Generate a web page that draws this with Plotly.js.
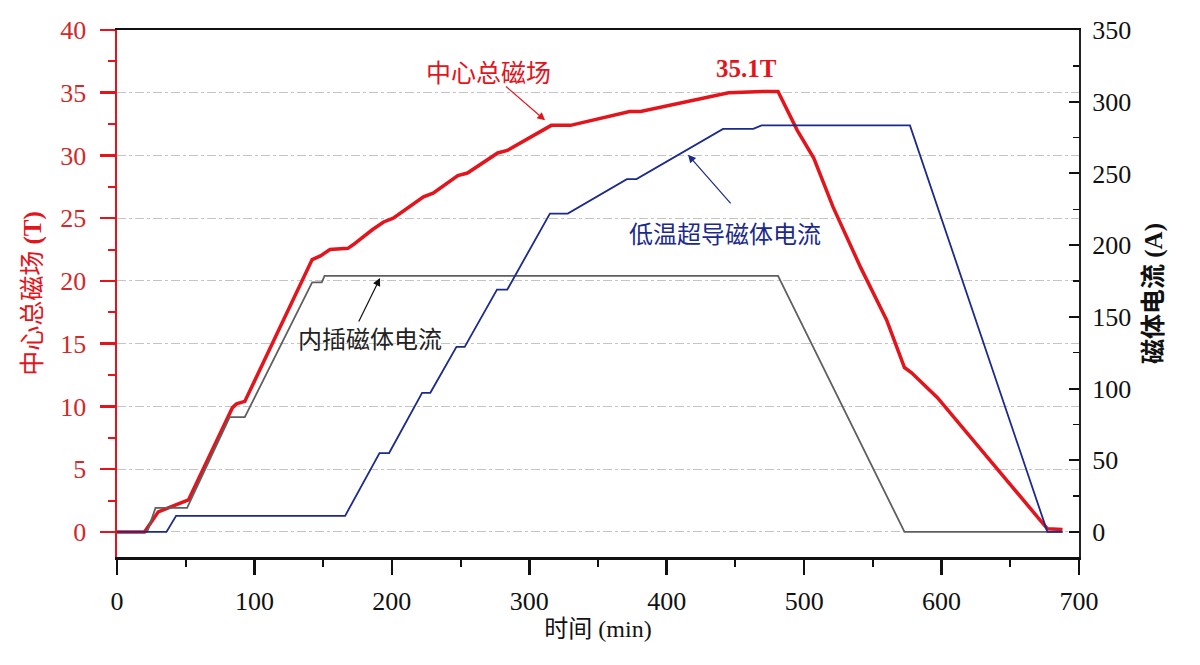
<!DOCTYPE html>
<html>
<head>
<meta charset="utf-8">
<script src="https://cdn.plot.ly/plotly-3.0.1.min.js"></script>
<style>
  html, body { margin: 0; padding: 0; background: #fff; }
  #chart { width: 1200px; height: 665px; }
</style>
</head>
<body>
<div id="chart"></div>
<script>
// centre field (T), left axis
var tField = [0, 20, 30, 46, 52, 84, 87, 93, 142, 148, 155, 168, 172, 186, 194, 201, 223, 230, 248, 255,
              277, 284, 316, 330, 373, 381, 445, 470, 481, 495, 507, 521, 541, 560, 573, 578, 597, 677, 688];
var field  = [0, 0, 1.6, 2.3, 2.55, 9.9, 10.2, 10.4, 21.7, 22.0, 22.5, 22.6, 22.9, 24.1, 24.7, 25.0, 26.7, 27.0, 28.4, 28.6,
              30.2, 30.4, 32.4, 32.4, 33.5, 33.5, 35.0, 35.1, 35.1, 32.0, 29.8, 25.9, 21.1, 16.9, 13.1, 12.7, 10.7, 0.25, 0.2];

// insert magnet current (A), right axis
var tInsert = [0, 22, 28, 51, 82, 93, 142, 149, 151, 481, 573, 688];
var insert  = [0, 0, 16.7, 16.7, 80, 80, 174, 174, 178.5, 178.5, 0, 0];

// LTS magnet current (A), right axis
var tLts = [0, 36, 43, 166, 191, 198, 222, 228, 247, 253, 276.5, 284, 315, 328, 371, 378, 441, 463, 469, 577, 677, 688];
var lts  = [0, 0, 11.2, 11.2, 55, 55, 97, 97, 129, 129, 169, 169, 222, 222, 246, 246, 281, 281, 283.5, 283.5, 0, 0];

var xTicks = [0, 100, 200, 300, 400, 500, 600, 700];
var yTicks = [0, 5, 10, 15, 20, 25, 30, 35, 40];
var y2Ticks = [0, 50, 100, 150, 200, 250, 300, 350];

var FONT = 'Liberation Serif, Noto Sans CJK SC, serif';
var RED = '#e3141b';
var NAVY = '#1b2a8c';
var GREY = '#5f5f5f';

var data = [
  {
    x: tInsert, y: insert, yaxis: 'y2', type: 'scatter', mode: 'lines',
    line: { color: GREY, width: 1.8 }, name: '内插磁体电流'
  },
  {
    x: tLts, y: lts, yaxis: 'y2', type: 'scatter', mode: 'lines',
    line: { color: NAVY, width: 1.8 }, name: '低温超导磁体电流'
  },
  {
    x: tField, y: field, yaxis: 'y', type: 'scatter', mode: 'lines',
    line: { color: RED, width: 3.5 }, name: '中心总磁场'
  }
];

var layout = {
  width: 1200,
  height: 665,
  margin: { l: 117, r: 121, t: 30, b: 108 },
  paper_bgcolor: '#fff',
  plot_bgcolor: '#fff',
  showlegend: false,
  font: { family: FONT, size: 25, color: '#111' },
  xaxis: {
    range: [0, 700],
    tickvals: xTicks,
    ticks: 'outside', ticklen: 15, tickwidth: 2.5, tickcolor: '#111',
    minor: { dtick: 50, ticks: 'outside', ticklen: 7, tickwidth: 2, tickcolor: '#111' },
    showline: true, linecolor: '#111', linewidth: 2.5, mirror: true,
    showgrid: false, zeroline: false,
    ticklabelstandoff: 4,
    tickfont: { family: FONT, size: 26, color: '#111' },
    title: { text: '时间 (min)', font: { family: FONT, size: 24, color: '#111' }, standoff: 6 }
  },
  yaxis: {
    range: [-2, 40],
    tickvals: yTicks,
    ticks: 'outside', ticklen: 15, tickwidth: 2.5, tickcolor: RED,
    minor: { dtick: 2.5, ticks: 'outside', ticklen: 7, tickwidth: 2, tickcolor: RED },
    showline: true, linecolor: RED, linewidth: 2.5,
    showgrid: true, gridcolor: '#c4c4c4', gridwidth: 1, griddash: 'dashdot',
    zeroline: false,
    ticklabelstandoff: 8,
    tickfont: { family: FONT, size: 26, color: '#d12a2a' },
    title: { text: '中心总磁场 <b>(T)</b>', font: { family: FONT, size: 25, color: RED }, standoff: 12 }
  },
  yaxis2: {
    overlaying: 'y', side: 'right',
    range: [-17.5, 350],
    tickvals: y2Ticks,
    ticks: 'inside', ticklen: 10, tickwidth: 2, tickcolor: '#111',
    minor: { dtick: 25, ticks: 'inside', ticklen: 6, tickwidth: 1.5, tickcolor: '#111' },
    showline: true, linecolor: '#222', linewidth: 2,
    showgrid: false, zeroline: false,
    ticklabelstandoff: 6,
    tickfont: { family: FONT, size: 26, color: '#111' },
    title: { text: '<b>磁体电流 (A)</b>', font: { family: FONT, size: 25, color: '#111' }, standoff: 14 }
  },
  annotations: [
    {
      x: 270, y: 36.5, xref: 'x', yref: 'y', text: '中心总磁场', showarrow: false,
      xanchor: 'center', yanchor: 'middle', font: { family: FONT, size: 25, color: RED }
    },
    {
      x: 311.5, y: 32.8, xref: 'x', yref: 'y', ax: 282, ay: 35.6, axref: 'x', ayref: 'y',
      text: '', showarrow: true, arrowhead: 2, arrowsize: 1.3, arrowwidth: 1.2, arrowcolor: RED, standoff: 0
    },
    {
      x: 458.4, y: 36.9, xref: 'x', yref: 'y', text: '<b>35.1T</b>', showarrow: false,
      xanchor: 'center', yanchor: 'middle', font: { family: FONT, size: 25, color: RED }
    },
    {
      x: 442.4, y: 207, xref: 'x', yref: 'y2', text: '低温超导磁体电流', showarrow: false,
      xanchor: 'center', yanchor: 'middle', font: { family: FONT, size: 24, color: NAVY }
    },
    {
      x: 415.5, y: 263, xref: 'x', yref: 'y2', ax: 447.5, ay: 228, axref: 'x', ayref: 'y2',
      text: '', showarrow: true, arrowhead: 2, arrowsize: 1.3, arrowwidth: 1.2, arrowcolor: NAVY, standoff: 0
    },
    {
      x: 184, y: 133.9, xref: 'x', yref: 'y2', text: '内插磁体电流', showarrow: false,
      xanchor: 'center', yanchor: 'middle', font: { family: FONT, size: 24, color: '#222' }
    },
    {
      x: 191.4, y: 177, xref: 'x', yref: 'y2', ax: 175.4, ay: 145.7, axref: 'x', ayref: 'y2',
      text: '', showarrow: true, arrowhead: 2, arrowsize: 1.3, arrowwidth: 1.2, arrowcolor: '#111', standoff: 0
    }
  ]
};

Plotly.newPlot('chart', data, layout, { displayModeBar: false, staticPlot: true });
</script>
</body>
</html>
